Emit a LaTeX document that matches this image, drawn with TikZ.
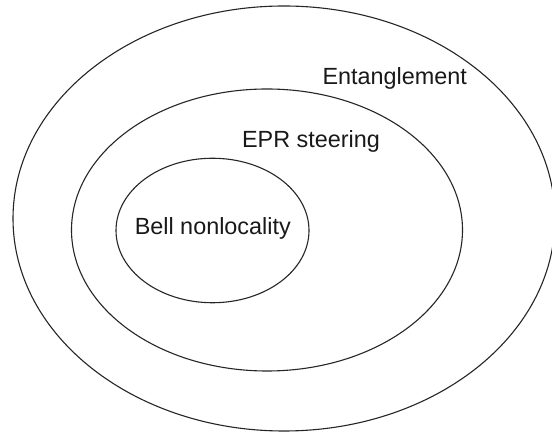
\documentclass[tikz,border=0pt]{standalone}
\usepackage{fontspec}
\setmainfont{Liberation Sans}
\usetikzlibrary{shapes.geometric}
\tikzset{
  setshape/.style={draw=black!85, line width=1.1pt, ellipse, inner sep=0pt, outer sep=0pt},
  setlabel/.style={anchor=base, inner sep=0pt, font=\fontsize{23.4}{28}\selectfont, text=black!90}
}
\begin{document}
\begin{tikzpicture}[x=1pt,y=1pt]
\useasboundingbox (0,0) rectangle (552,433);
\clip (0,0) rectangle (552,433);
\fill[white] (0,0) rectangle (552,433);
\node[setshape, minimum width=542pt, minimum height=425pt] (ent) at (284,214.5) {};
\node[setshape, minimum width=391pt, minimum height=282pt] (epr) at (267,203) {};
\node[setshape, minimum width=193pt, minimum height=144.5pt] (bell) at (212.5,202.5) {};
\node[setlabel] (entl) at (394.7,348) {Entanglement};
\node[setlabel] (eprl) at (311,285.7) {EPR steering};
\node[setlabel] (belll) at (212.8,198.7) {Bell nonlocality};
\end{tikzpicture}
\end{document}
